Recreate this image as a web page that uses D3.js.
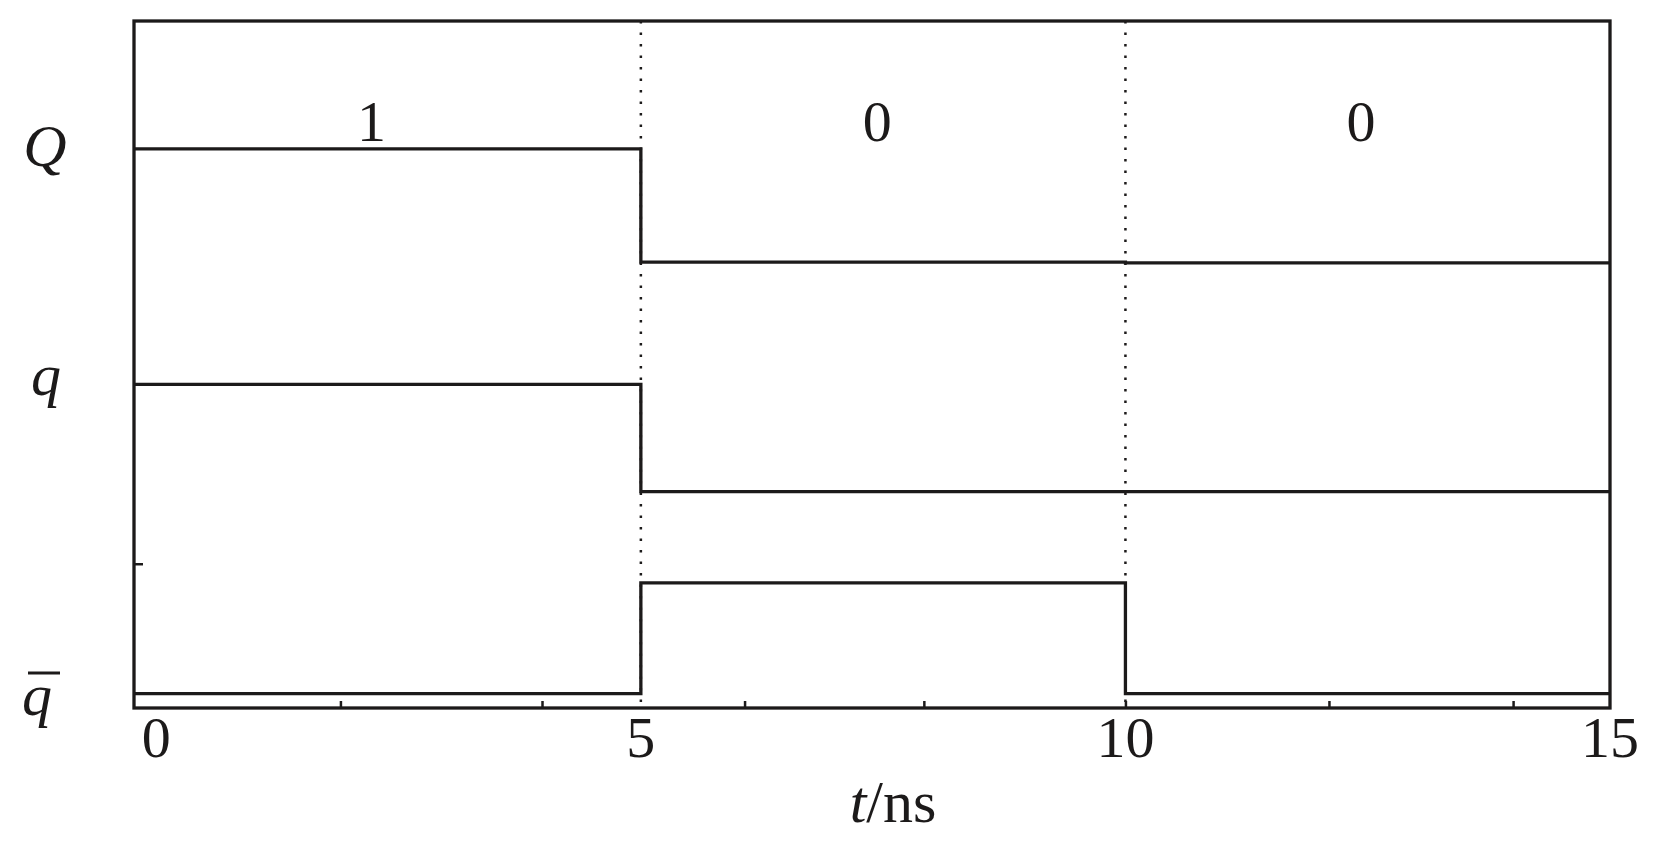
<!DOCTYPE html>
<html>
<head>
<meta charset="utf-8">
<script src="https://cdn.jsdelivr.net/npm/d3@7"></script>
<style>
  html, body { margin: 0; padding: 0; background: #fff; }
  svg { display: block; }
  text { font-family: "Liberation Serif", "Times New Roman", serif; fill: #1c1a1a; }
</style>
</head>
<body>
<svg id="chart" width="1654" height="851"></svg>
<script>
// ---- data ----
const stepTimes   = [-0.23, 5, 10, 15];          // ns, transition instants
const seriesQ     = [81.4, 64.9, 64.8, 64.8];    // Q level (arbitrary units)
const seriesq     = [47.1, 31.5, 31.5, 31.5];    // q level
const seriesqBar  = [2.1, 18.2, 2.1, 2.1];       // q-bar level
const bitTimes    = [2.22, 7.44, 12.43];         // positions of bit labels
const bitLabels   = ["1", "0", "0"];
const xTickValues = [0, 5, 10, 15];
const xTickLabels = ["0", "5", "10", "15"];
const xMinorTicks = [1.9, 3.98, 6.07, 7.92, 10, 12.1, 14.0];
const dividers    = [5, 10];
const yTicks      = [21.0];
const xDomain     = [-0.23, 15];
const yDomain     = [0, 100];

// ---- layout ----
const svg = d3.select("#chart");
const mLeft = 134, mRight = 1610, mTop = 21, mBottom = 708;
const ink = "#1c1a1a";

const x = d3.scaleLinear().domain(xDomain).range([mLeft, mRight]);
const y = d3.scaleLinear().domain(yDomain).range([mBottom, mTop]);

// dotted dividers
svg.selectAll("line.div").data(dividers).join("line")
  .attr("class", "div")
  .attr("x1", d => x(d)).attr("x2", d => x(d))
  .attr("y1", y(100)).attr("y2", y(0))
  .attr("stroke", ink).attr("stroke-width", 2.5)
  .attr("stroke-dasharray", "2.5 9");

// signals
const line = d3.line().x(d => x(d[0])).y(d => y(d[1])).curve(d3.curveStepAfter);
[seriesQ, seriesq, seriesqBar].forEach(s => {
  svg.append("path")
    .datum(stepTimes.map((t, i) => [t, s[i]]))
    .attr("d", line)
    .attr("fill", "none")
    .attr("stroke", ink)
    .attr("stroke-width", 3.3);
});

// frame
svg.append("rect")
  .attr("x", x(xDomain[0])).attr("y", y(100))
  .attr("width", x(xDomain[1]) - x(xDomain[0]))
  .attr("height", y(0) - y(100))
  .attr("fill", "none").attr("stroke", ink).attr("stroke-width", 3.3);

// bottom axis: minor inward ticks, labels
const xAxis = d3.axisBottom(x).tickValues(xMinorTicks).tickSizeInner(-7).tickSizeOuter(0).tickFormat("");
const gx = svg.append("g").attr("transform", `translate(0,${mBottom})`).call(xAxis);
gx.select(".domain").remove();
gx.selectAll(".tick line").attr("stroke", ink).attr("stroke-width", 2.5);

svg.selectAll("text.xl").data(xTickValues).join("text")
  .attr("class", "xl")
  .attr("x", d => x(d)).attr("y", 757)
  .attr("text-anchor", "middle")
  .attr("font-size", 58)
  .text((d, i) => xTickLabels[i]);

// left axis tick
const yAxis = d3.axisLeft(y).tickValues(yTicks).tickSizeInner(-9).tickSizeOuter(0).tickFormat("");
const gy = svg.append("g").attr("transform", `translate(${mLeft},0)`).call(yAxis);
gy.select(".domain").remove();
gy.selectAll(".tick line").attr("stroke", ink).attr("stroke-width", 2.5);

// bit labels
svg.selectAll("text.bit").data(bitTimes).join("text")
  .attr("class", "bit")
  .attr("x", d => x(d)).attr("y", 141)
  .attr("text-anchor", "middle")
  .attr("font-size", 58)
  .text((d, i) => bitLabels[i]);

// signal names
svg.append("text").attr("x", 45).attr("y", 166).attr("text-anchor", "middle")
  .attr("font-size", 60).attr("font-style", "italic").text("Q");
svg.append("text").attr("x", 46).attr("y", 395).attr("text-anchor", "middle")
  .attr("font-size", 60).attr("font-style", "italic").text("q");
svg.append("text").attr("x", 37).attr("y", 715).attr("text-anchor", "middle")
  .attr("font-size", 60).attr("font-style", "italic").text("q");
svg.append("line").attr("x1", 28).attr("x2", 60).attr("y1", 673).attr("y2", 673)
  .attr("stroke", ink).attr("stroke-width", 3);

// x-axis title
const title = svg.append("text").attr("x", 893).attr("y", 822)
  .attr("text-anchor", "middle").attr("font-size", 60);
title.append("tspan").attr("font-style", "italic").text("t");
title.append("tspan").text("/ns");
</script>
</body>
</html>
